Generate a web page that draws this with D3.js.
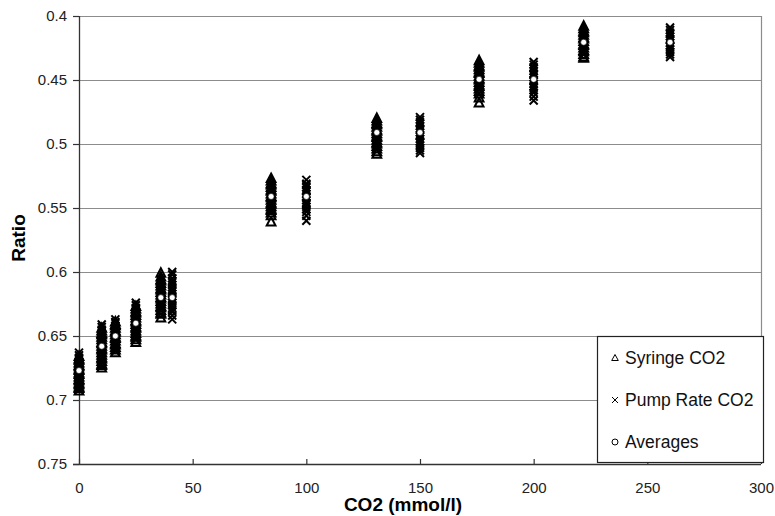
<!DOCTYPE html>
<html>
<head>
<meta charset="utf-8">
<script src="https://cdn.jsdelivr.net/npm/d3@7"></script>
<style>
  body { margin: 0; background: #fff; }
  svg { display: block; font-family: Arial, "Liberation Sans", sans-serif; }
</style>
</head>
<body>
<div id="chart"></div>
<script>

// Syringe CO2 series (triangles): one x per group, ratios
var syringeX = [0, 10, 16, 25, 36, 84.5, 131, 176, 222]
var syringeRatios = [
  [0.666,0.668,0.669,0.671,0.673,0.674,0.676,0.677,0.679,0.680,0.682,0.684,0.685,0.687,0.688,0.690,0.691,0.693],
  [0.644,0.646,0.648,0.649,0.651,0.653,0.655,0.656,0.658,0.660,0.661,0.663,0.665,0.667,0.668,0.670,0.672,0.673,0.675],
  [0.639,0.641,0.642,0.644,0.646,0.647,0.649,0.651,0.652,0.654,0.656,0.657,0.659,0.661,0.663],
  [0.627,0.629,0.631,0.632,0.634,0.636,0.638,0.639,0.641,0.643,0.644,0.646,0.648,0.650,0.651,0.653,0.655],
  [0.601,0.604,0.606,0.607,0.609,0.611,0.613,0.614,0.616,0.618,0.620,0.621,0.623,0.625,0.627,0.628,0.630,0.632,0.633,0.636],
  [0.527,0.529,0.531,0.532,0.534,0.536,0.537,0.539,0.541,0.542,0.544,0.546,0.547,0.549,0.551,0.552,0.554,0.556,0.561],
  [0.480,0.482,0.484,0.485,0.487,0.489,0.490,0.492,0.494,0.495,0.497,0.499,0.500,0.502,0.504,0.506,0.508],
  [0.435,0.437,0.439,0.440,0.442,0.444,0.445,0.447,0.449,0.450,0.452,0.454,0.455,0.457,0.459,0.461,0.464,0.468],
  [0.408,0.410,0.412,0.413,0.415,0.417,0.418,0.420,0.422,0.423,0.425,0.427,0.428,0.430,0.432,0.433]
]

// Pump Rate CO2 series (crosses)
var pumpX = [0, 10, 16, 25, 41, 100, 150, 200, 260]
var pumpRatios = [
  [0.663,0.665,0.667,0.668,0.670,0.672,0.673,0.675,0.677,0.678,0.680,0.681,0.683,0.685,0.686,0.688,0.690,0.692],
  [0.641,0.643,0.645,0.646,0.648,0.650,0.652,0.653,0.655,0.657,0.659,0.660,0.662,0.664,0.666,0.667,0.669,0.671,0.673],
  [0.637,0.639,0.640,0.642,0.644,0.645,0.647,0.649,0.650,0.652,0.654,0.655,0.657,0.659,0.660,0.662],
  [0.624,0.626,0.628,0.629,0.631,0.633,0.635,0.636,0.638,0.640,0.642,0.643,0.645,0.647,0.649,0.650,0.652,0.653],
  [0.600,0.602,0.605,0.607,0.608,0.610,0.612,0.614,0.615,0.617,0.619,0.621,0.622,0.624,0.626,0.628,0.630,0.631,0.634,0.637],
  [0.528,0.531,0.532,0.534,0.536,0.537,0.539,0.541,0.542,0.544,0.546,0.547,0.549,0.551,0.553,0.556,0.560],
  [0.479,0.481,0.483,0.484,0.486,0.488,0.489,0.491,0.493,0.494,0.496,0.498,0.499,0.501,0.503,0.505,0.507],
  [0.436,0.438,0.440,0.441,0.443,0.445,0.446,0.448,0.450,0.451,0.453,0.455,0.456,0.458,0.460,0.463,0.466],
  [0.409,0.411,0.413,0.414,0.416,0.418,0.419,0.421,0.423,0.424,0.426,0.428,0.430,0.432]
]

// Averages series (open circles)
var avgX = [0, 10, 16, 25, 36, 41, 84.5, 100, 131, 150, 176, 200, 222, 260]
var avgRatio = [0.677, 0.658, 0.650, 0.640, 0.620, 0.620, 0.541, 0.541, 0.491, 0.491, 0.4495, 0.4495, 0.4205, 0.4205]

var xTicks = [0, 50, 100, 150, 200, 250, 300]
var yTicks = [0.4, 0.45, 0.5, 0.55, 0.6, 0.65, 0.7, 0.75]
var legendLabels = ["Syringe CO2", "Pump Rate CO2", "Averages"]

// chart formatting
var margin = {top: 16, right: 14, bottom: 52, left: 79},
    width = 775 - margin.left - margin.right,
    height = 516 - margin.top - margin.bottom;

var svg = d3.select("#chart").append("svg")
    .attr("width", 775)
    .attr("height", 516)
  .append("g")
    .attr("transform", "translate(" + margin.left + "," + margin.top + ")")

var xScale = d3.scaleLinear().domain([0, 300]).range([0, width])
var yScale = d3.scaleLinear().domain([0.4, 0.75]).range([0, height])

// gridlines
svg.selectAll(".grid")
    .data(yTicks.slice(0, -1))
  .enter().append("line")
    .attr("class", "grid")
    .attr("x1", 0).attr("x2", width)
    .attr("y1", function(d) { return yScale(d) + 0.5 })
    .attr("y2", function(d) { return yScale(d) + 0.5 })
    .style("stroke", "#8c8c8c")
    .style("stroke-width", 1.2)

// right border of plot area
svg.append("line")
    .attr("x1", width + 0.5).attr("x2", width + 0.5)
    .attr("y1", 0).attr("y2", height)
    .style("stroke", "#8c8c8c")
    .style("stroke-width", 1.2)

// axes
var xAxis = d3.axisBottom(xScale).tickValues(xTicks).tickSize(-5).tickPadding(18).tickFormat(d3.format("d"))
var yAxis = d3.axisLeft(yScale).tickValues(yTicks).tickSize(6).tickPadding(6).tickFormat(function(d) { return String(d) })

var gx = svg.append("g")
    .attr("class", "x axis")
    .attr("transform", "translate(0," + height + ")")
    .call(xAxis)
gx.select(".domain").remove()
gx.append("line").attr("x1", -6).attr("x2", width).attr("y1", 0.5).attr("y2", 0.5).style("stroke", "#333").style("stroke-width", 1.3)

var gy = svg.append("g")
    .attr("class", "y axis")
    .call(yAxis)
gy.select(".domain").remove()
gy.append("line").attr("x1", 0.5).attr("x2", 0.5).attr("y1", 0).attr("y2", height).style("stroke", "#333").style("stroke-width", 1.3)

svg.selectAll(".axis .tick line").style("stroke", "#333").style("stroke-width", 1.2)
svg.selectAll(".axis text")
    .style("font-size", "15px")
    .style("font-family", "Arial, 'Liberation Sans', sans-serif")
    .style("fill", "#222")

// axis titles
svg.append("text")
    .attr("transform", "rotate(-90)")
    .attr("x", -(height / 2) + 2)
    .attr("y", -margin.left + 25)
    .style("text-anchor", "middle")
    .style("font-weight", "bold")
    .style("font-size", "19px")
    .text("Ratio")

svg.append("text")
    .attr("x", width / 2 - 17)
    .attr("y", height + 47)
    .style("text-anchor", "middle")
    .style("font-weight", "bold")
    .style("font-size", "19px")
    .text("CO2 (mmol/l)")

// marker shapes
var triPath = "M0,-5L4.4,3.5L-4.4,3.5Z"
var crossPath = "M-4,-4L4,4M-4,4L4,-4"

function flatten(xs, ratios) {
  var pts = []
  xs.forEach(function(x, i) {
    ratios[i].forEach(function(r) { pts.push({x: x, r: r}) })
  })
  return pts
}

svg.selectAll(".tri")
    .data(flatten(syringeX, syringeRatios))
  .enter().append("path")
    .attr("class", "tri")
    .attr("d", triPath)
    .attr("transform", function(d) { return "translate(" + xScale(d.x) + "," + yScale(d.r) + ")" })
    .style("fill", "none")
    .style("stroke", "#000")
    .style("stroke-width", 2)

svg.selectAll(".cross")
    .data(flatten(pumpX, pumpRatios))
  .enter().append("path")
    .attr("class", "cross")
    .attr("d", crossPath)
    .attr("transform", function(d) { return "translate(" + xScale(d.x) + "," + yScale(d.r) + ")" })
    .style("fill", "none")
    .style("stroke", "#000")
    .style("stroke-width", 2)

svg.selectAll(".avg")
    .data(avgX)
  .enter().append("circle")
    .attr("class", "avg")
    .attr("cx", function(d) { return xScale(d) })
    .attr("cy", function(d, i) { return yScale(avgRatio[i]) })
    .attr("r", 3)
    .style("fill", "#fff")
    .style("stroke", "#000")
    .style("stroke-width", 0.6)

// legend
var legend = svg.append("g")
    .attr("transform", "translate(" + (597 - margin.left) + "," + (336 - margin.top) + ")")

legend.append("rect")
    .attr("x", 0.5).attr("y", 0.5)
    .attr("width", 166).attr("height", 126)
    .style("fill", "#fff")
    .style("stroke", "#222")
    .style("stroke-width", 1.2)

var rows = legend.selectAll(".lrow")
    .data(legendLabels)
  .enter().append("g")
    .attr("class", "lrow")
    .attr("transform", function(d, i) { return "translate(0," + (22 + i * 42) + ")" })

rows.append("path")
    .attr("d", function(d, i) {
      if (i == 0) return "M0,-3.5L3.3,2.5L-3.3,2.5Z"
      if (i == 1) return "M-3,-3L3,3M-3,3L3,-3"
      return d3.symbol().type(d3.symbolCircle).size(28)()
    })
    .attr("transform", "translate(18,0)")
    .style("fill", "none")
    .style("stroke", "#000")
    .style("stroke-width", 1)

rows.append("text")
    .attr("x", 28)
    .attr("y", 6)
    .style("font-size", "17.5px")
    .style("fill", "#111")
    .text(function(d) { return d })

</script>
</body>
</html>
